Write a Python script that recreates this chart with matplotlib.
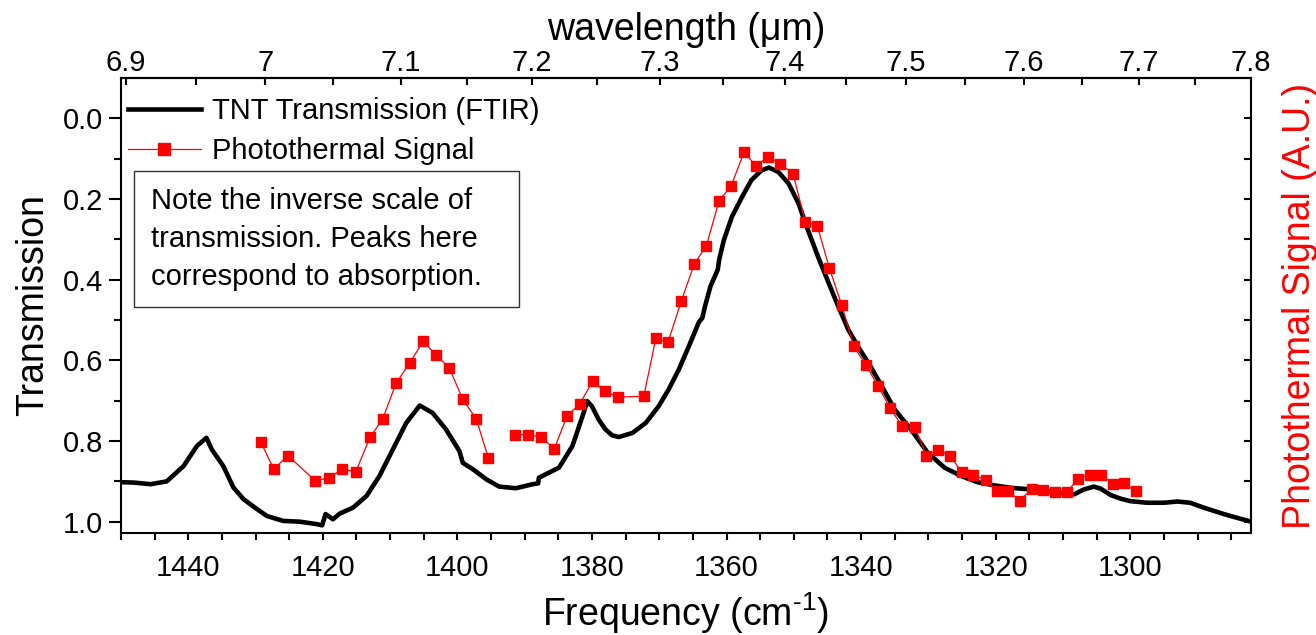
import numpy as np
import matplotlib
matplotlib.use("Agg")
import matplotlib.pyplot as plt
from matplotlib.ticker import MultipleLocator, FixedLocator, FuncFormatter
from matplotlib.lines import Line2D
from matplotlib.patches import Rectangle

plt.rcParams['font.family'] = ['Liberation Sans', 'DejaVu Sans']
plt.rcParams['mathtext.fontset'] = 'custom'
plt.rcParams['mathtext.rm'] = 'Liberation Sans'
plt.rcParams['mathtext.default'] = 'regular'

# FTIR transmission curve (frequency cm^-1, transmission)
ftir_freq = [1450.0, 1448.1, 1445.6, 1443.2, 1440.7, 1438.7, 1437.3, 1436.5, 1434.8, 1433.3,
             1431.8, 1430.1, 1428.3, 1425.9, 1423.4, 1420.9, 1420.1, 1419.6, 1418.5, 1417.5,
             1415.5, 1413.5, 1411.6, 1409.6, 1407.6, 1405.6, 1403.7, 1401.7, 1399.7, 1399.2,
             1397.7, 1395.7, 1393.8, 1391.3, 1388.8, 1388.0, 1387.9, 1384.9, 1382.9, 1381.4,
             1380.7, 1380.0, 1379.0, 1378.0, 1377.0, 1376.0, 1374.0, 1372.0, 1370.1, 1368.6,
             1367.1, 1365.6, 1364.1, 1363.6, 1363.2, 1362.4, 1361.3, 1361.1, 1360.4, 1359.2,
             1357.7, 1356.3, 1354.8, 1353.7, 1352.3, 1350.8, 1349.3, 1347.9, 1346.4, 1344.9,
             1343.4, 1341.9, 1340.3, 1338.6, 1337.2, 1335.0, 1332.6, 1330.1, 1327.6, 1325.1,
             1322.7, 1320.2, 1317.7, 1314.8, 1312.3, 1309.8, 1308.3, 1306.9, 1305.4, 1304.4,
             1302.9, 1301.4, 1300.0, 1297.5, 1295.0, 1293.0, 1291.1, 1289.1, 1286.1, 1284.2,
             1282.0]
ftir_trans = [0.902, 0.903, 0.907, 0.900, 0.862, 0.812, 0.792, 0.821, 0.862, 0.915,
              0.944, 0.965, 0.986, 0.998, 1.000, 1.006, 1.009, 0.981, 0.994, 0.980,
              0.965, 0.936, 0.887, 0.821, 0.755, 0.712, 0.730, 0.771, 0.825, 0.854,
              0.870, 0.895, 0.913, 0.917, 0.907, 0.905, 0.891, 0.866, 0.812, 0.738,
              0.701, 0.714, 0.747, 0.771, 0.786, 0.790, 0.780, 0.755, 0.714, 0.672,
              0.623, 0.565, 0.505, 0.495, 0.466, 0.417, 0.375, 0.351, 0.302, 0.244,
              0.195, 0.153, 0.129, 0.122, 0.133, 0.161, 0.211, 0.277, 0.343, 0.405,
              0.466, 0.524, 0.570, 0.615, 0.656, 0.722, 0.771, 0.829, 0.866, 0.887,
              0.902, 0.910, 0.916, 0.920, 0.924, 0.930, 0.932, 0.920, 0.913, 0.918,
              0.934, 0.943, 0.949, 0.953, 0.953, 0.950, 0.953, 0.965, 0.981, 0.990,
              1.000]

# Photothermal signal, segment 1
pt1_freq = [1429.2, 1427.3, 1425.2, 1421.1, 1419.1, 1417.1, 1415.1, 1413.0, 1411.1, 1409.1,
            1407.1, 1405.1, 1403.2, 1401.2, 1399.2, 1397.2, 1395.4]
pt1_sig = [0.803, 0.870, 0.836, 0.899, 0.891, 0.870, 0.876, 0.791, 0.745, 0.656,
           0.607, 0.553, 0.586, 0.619, 0.697, 0.745, 0.842]

# Photothermal signal, segment 2
pt2_freq = [1391.4, 1389.5, 1387.6, 1385.6, 1383.7, 1381.8, 1379.9, 1378.1, 1376.1, 1372.3,
            1370.5, 1368.7, 1366.7, 1364.8, 1363.0, 1361.1, 1359.3, 1357.4, 1355.6, 1353.8,
            1352.0, 1350.1, 1348.3, 1346.5, 1344.7, 1342.9, 1341.1, 1339.3, 1337.5, 1335.7,
            1333.9, 1332.0, 1330.3, 1328.6, 1326.8, 1325.0, 1323.3, 1321.5, 1319.8, 1318.1,
            1316.4, 1314.6, 1312.9, 1311.2, 1309.4, 1307.7, 1306.0, 1304.3, 1302.6, 1301.0,
            1299.2]
pt2_sig = [0.784, 0.784, 0.790, 0.819, 0.738, 0.708, 0.651, 0.677, 0.691, 0.689,
           0.545, 0.555, 0.452, 0.361, 0.316, 0.204, 0.167, 0.084, 0.118, 0.095,
           0.112, 0.138, 0.256, 0.267, 0.372, 0.462, 0.565, 0.611, 0.663, 0.718,
           0.763, 0.766, 0.836, 0.821, 0.836, 0.878, 0.884, 0.897, 0.925, 0.924,
           0.948, 0.918, 0.921, 0.927, 0.926, 0.893, 0.883, 0.883, 0.906, 0.903,
           0.925]

top_ticks = [6.9, 7.0, 7.1, 7.2, 7.3, 7.4, 7.5, 7.6, 7.7, 7.8]

W, H = 1316, 635
fig = plt.figure(figsize=(W / 100, H / 100), dpi=100)
L, R, T, B = 121, 1251, 78, 533
ax = fig.add_axes([L / W, 1 - B / H, (R - L) / W, (B - T) / H])

FS_TICK = 21
FS_LAB = 27
red = '#FF0000'

ax.plot(ftir_freq, ftir_trans, color='black', lw=3.3, solid_joinstyle='round', zorder=3)
ax.plot(pt1_freq, pt1_sig, color=red, lw=0.9, marker='s', ms=7.3, mec=red, mfc=red, zorder=4)
ax.plot(pt2_freq, pt2_sig, color=red, lw=0.9, marker='s', ms=7.3, mec=red, mfc=red, zorder=4)

ax.set_xlim(1450, 1282.05)
ax.set_ylim(1.028, -0.1)

for s in ax.spines.values():
    s.set_linewidth(1.5)

ax.xaxis.set_major_locator(MultipleLocator(20))
ax.xaxis.set_minor_locator(MultipleLocator(5))
ax.yaxis.set_major_locator(FixedLocator([0.0, 0.2, 0.4, 0.6, 0.8, 1.0]))
ax.yaxis.set_minor_locator(FixedLocator([0.1, 0.3, 0.5, 0.7, 0.9]))
ax.yaxis.set_major_formatter(FuncFormatter(lambda v, p: f"{v:.1f}"))
ax.tick_params(axis='x', which='both', direction='out', length=5, width=1.5,
               labelsize=FS_TICK, pad=10, top=False)
ax.tick_params(axis='y', which='major', direction='out', length=9, width=1.5,
               labelsize=FS_TICK, pad=4, right=False)
ax.tick_params(axis='y', which='minor', direction='out', length=5, width=1.5, right=False)

ax.set_xlabel('Frequency (cm$^{\u2010 1}$)', fontsize=FS_LAB, labelpad=6)
ax.set_ylabel('Transmission', fontsize=FS_LAB, labelpad=8)

# Top wavelength axis
sec = ax.secondary_xaxis('top', functions=(lambda f: 1e4 / np.asarray(f, dtype=float),
                                           lambda w: 1e4 / np.asarray(w, dtype=float)))
sec.xaxis.set_major_locator(FixedLocator(top_ticks))
sec.xaxis.set_minor_locator(FixedLocator([t + 0.05 for t in top_ticks[:-1]]))
sec.xaxis.set_major_formatter(FuncFormatter(lambda v, p: f"{v:g}"))
sec.tick_params(which='both', direction='in', length=5, width=1.5, labelsize=FS_TICK, pad=1)
sec.spines['top'].set_linewidth(1.5)
sec.set_xlabel('wavelength (μm)', fontsize=FS_LAB, labelpad=6)

# Right axis (photothermal signal, arbitrary units)
ax2 = ax.twinx()
ax2.set_ylim(ax.get_ylim())
ax2.yaxis.set_major_locator(FixedLocator(np.round(np.arange(0, 1.01, 0.1), 2)))
ax2.tick_params(axis='y', direction='in', length=5, width=1.5, labelright=False)
ax2.set_ylabel('Photothermal Signal (A.U.)', fontsize=FS_LAB, color=red, labelpad=22)
for s in ax2.spines.values():
    s.set_visible(False)

# Legend
handles = [Line2D([], [], color='black', lw=3.3),
           Line2D([], [], color=red, lw=0.9, marker='s', ms=8, mec=red, mfc=red)]
leg = ax.legend(handles, ['TNT Transmission (FTIR)', 'Photothermal Signal'],
                loc='upper left', bbox_to_anchor=((128 - L) / (R - L), 1 - 19 / (B - T)),
                frameon=False, fontsize=FS_TICK, handlelength=2.5, handletextpad=0.38,
                labelspacing=0.42, borderaxespad=0, borderpad=0)

# Note box
fig.patches.append(Rectangle((134 / W, 1 - 307 / H), (519 - 134) / W, (307 - 171) / H,
                             transform=fig.transFigure, fill=False, edgecolor='#333333',
                             lw=1.0, zorder=5))
fig.text(151 / W, 1 - 239 / H,
         'Note the inverse scale of\ntransmission. Peaks here\ncorrespond to absorption.',
         fontsize=FS_TICK, ha='left', va='center', linespacing=1.45, zorder=6)

fig.savefig('out.png', dpi=100)
